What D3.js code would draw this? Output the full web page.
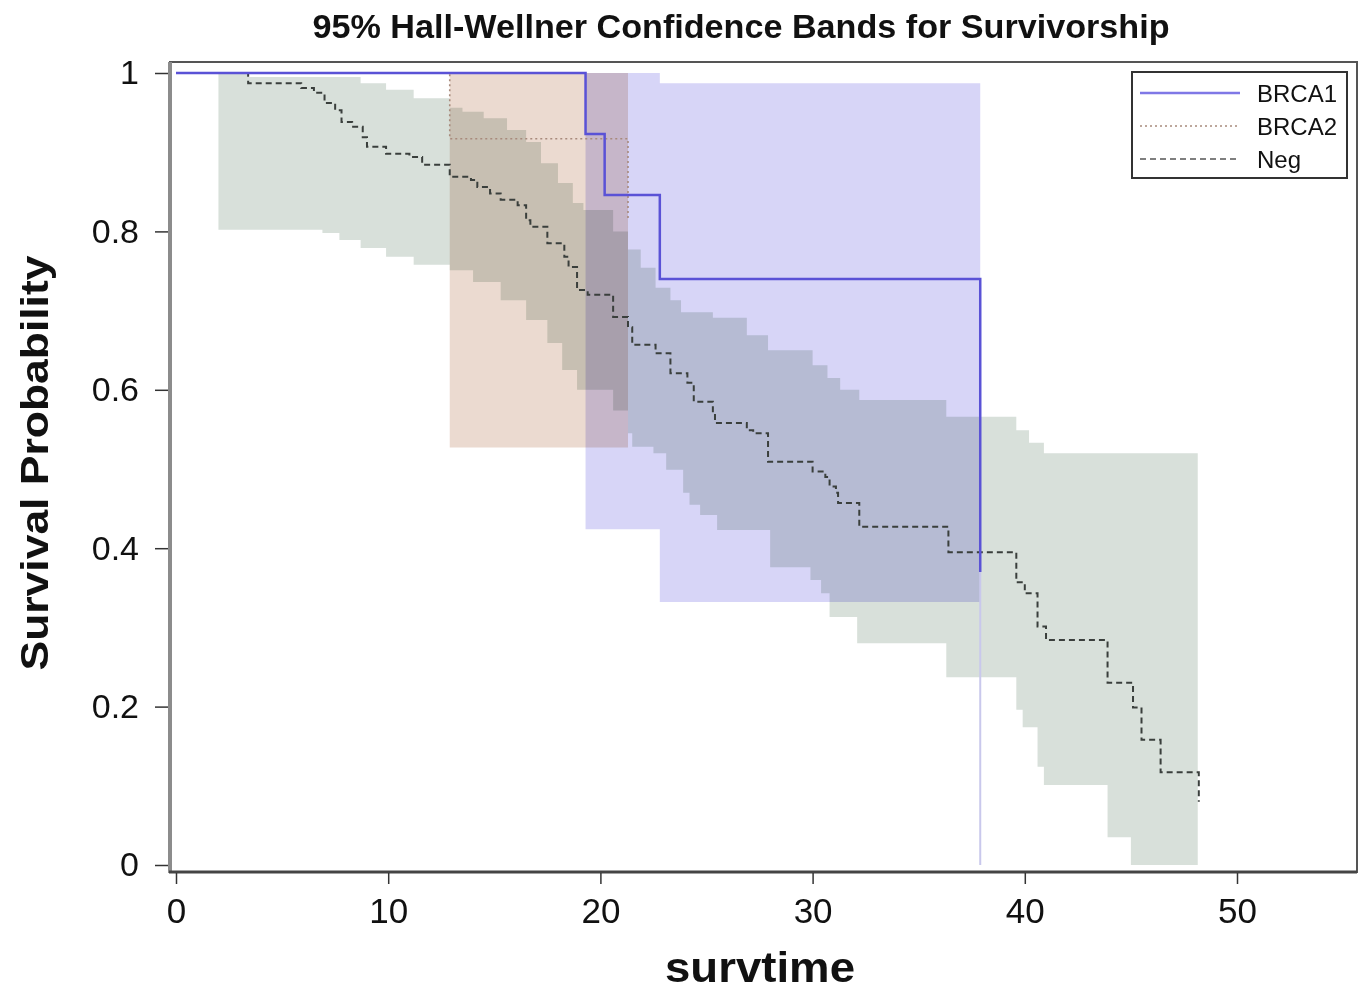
<!DOCTYPE html>
<html>
<head>
<meta charset="utf-8">
<script src="https://cdn.jsdelivr.net/npm/d3@7"></script>
<style>
  body { margin: 0; background: #fff; }
  svg { display: block; font-family: "Liberation Sans", Arial, sans-serif; }
  .band { mix-blend-mode: multiply; }
</style>
</head>
<body>
<div id="chart"></div>
<script>
// Kaplan-Meier steps: [time, survival]
var brca1Steps = [[0, 1], [19.3, 0.923], [20.2, 0.846], [22.8, 0.740], [37.9, 0.370]];
var brca2Steps = [[0, 1], [12.9, 0.917], [21.3, 0.815]];
var negSteps = [[0, 1], [3.4, 0.987], [5.9, 0.981], [6.5, 0.975], [7.0, 0.962], [7.5, 0.953],
  [7.8, 0.938], [8.3, 0.932], [8.8, 0.919], [9.0, 0.907], [9.9, 0.898], [11.0, 0.894],
  [11.6, 0.884], [12.9, 0.869], [13.9, 0.865], [14.2, 0.856], [14.8, 0.848], [15.3, 0.840],
  [16.1, 0.833], [16.5, 0.814], [16.7, 0.806], [17.5, 0.785], [18.3, 0.768], [18.5, 0.755],
  [18.9, 0.726], [19.4, 0.720], [20.6, 0.692], [21.3, 0.679], [21.5, 0.657], [22.6, 0.646],
  [23.3, 0.621], [24.1, 0.609], [24.4, 0.585], [25.3, 0.571], [25.4, 0.558], [26.9, 0.549],
  [27.2, 0.545], [27.9, 0.509], [30.0, 0.497], [30.6, 0.490], [30.8, 0.478], [31.1, 0.470],
  [31.2, 0.457], [32.2, 0.427], [36.4, 0.395], [39.6, 0.357], [40.0, 0.343], [40.6, 0.301],
  [41.0, 0.284], [43.9, 0.230], [45.1, 0.199], [45.5, 0.158], [46.4, 0.117], [48.2, 0.080]];

// Hall-Wellner band edges: [time, value], each held until the next time
var brca1Upper = [[19.3, 1.0], [22.8, 0.987]];
var brca1Lower = [[19.3, 0.424], [22.8, 0.332]];
var brca1End = 37.9;
var brca1Tail = [[37.9, 0.370], [37.9, 0]];

var brca2Upper = [[12.9, 1.0]];
var brca2Lower = [[12.9, 0.527]];
var brca2End = 21.3;

var negUpper = [[2.0, 1.0], [3.4, 0.995], [8.7, 0.987], [9.9, 0.979], [11.2, 0.968], [12.9, 0.956],
  [13.5, 0.951], [14.5, 0.943], [15.6, 0.928], [16.5, 0.913], [17.2, 0.886], [18.0, 0.861],
  [18.7, 0.836], [19.2, 0.827], [20.6, 0.800], [21.3, 0.777], [21.9, 0.754], [22.6, 0.729],
  [23.3, 0.713], [23.8, 0.698], [25.3, 0.691], [26.9, 0.669], [27.9, 0.650], [30.0, 0.631],
  [30.7, 0.615], [31.3, 0.600], [32.2, 0.587], [36.3, 0.566], [39.6, 0.549], [40.2, 0.533],
  [40.9, 0.520]];
var negLower = [[2.0, 0.802], [6.9, 0.798], [7.7, 0.789], [8.7, 0.779], [9.9, 0.768], [11.2, 0.758],
  [12.9, 0.751], [14.0, 0.736], [15.3, 0.713], [16.5, 0.688], [17.5, 0.659], [18.2, 0.625],
  [18.9, 0.600], [20.6, 0.574], [21.3, 0.545], [21.5, 0.528], [22.5, 0.520], [23.1, 0.499],
  [23.9, 0.470], [24.2, 0.455], [24.7, 0.442], [25.5, 0.423], [28.0, 0.376], [29.9, 0.360],
  [30.4, 0.343], [30.8, 0.313], [32.1, 0.280], [36.3, 0.237], [39.6, 0.196], [39.9, 0.174],
  [40.6, 0.124], [40.9, 0.101], [43.9, 0.035], [45.0, 0]];
var negEnd = 48.15;

var xTicks = [0, 10, 20, 30, 40, 50];
var yTicks = [0, 0.2, 0.4, 0.6, 0.8, 1];
var groups = ["BRCA1", "BRCA2", "Neg"];

var width = 1365, height = 994,
    frame = {left: 170, right: 1357, top: 62, bottom: 872};

var svg = d3.select("#chart")
            .append("svg")
              .attr("width", width)
              .attr("height", height);

var x = d3.scaleLinear().domain([0, 50]).range([176, 1237]),
    y = d3.scaleLinear().domain([0, 1]).range([865, 73]);

function stepAt(steps, t) {
    var v = steps[0][1];
    steps.forEach(function(d){ if (d[0] <= t) v = d[1]; });
    return v;
}

function bandRows(upper, lower, end) {
    var ts = Array.from(new Set(upper.map(function(d){return d[0]})
                .concat(lower.map(function(d){return d[0]}), [end])))
                .sort(function(a, b){return a - b});
    return ts.map(function(t){ return {t: t, lo: stepAt(lower, t), hi: stepAt(upper, t)}; });
}

var band = d3.area()
    .curve(d3.curveStepAfter)
    .x(function(d){ return x(d.t); })
    .y0(function(d){ return y(d.lo); })
    .y1(function(d){ return y(d.hi); });

var step = d3.line()
    .curve(d3.curveStepAfter)
    .x(function(d){ return x(d[0]); })
    .y(function(d){ return y(d[1]); });

var plot = svg.append("g");

plot.append("path").attr("class", "band")
    .datum(bandRows(negUpper, negLower, negEnd))
    .attr("d", band).style("fill", "#d8e0da");
plot.append("path").attr("class", "band")
    .datum(bandRows(brca2Upper, brca2Lower, brca2End))
    .attr("d", band).style("fill", "#ebdad0");
plot.append("path").attr("class", "band")
    .datum(bandRows(brca1Upper, brca1Lower, brca1End))
    .attr("d", band).style("fill", "#d7d5f7");

plot.append("path")
    .datum(brca1Tail)
    .attr("d", d3.line().x(function(d){return x(d[0])}).y(function(d){return y(d[1])}))
    .style("fill", "none").style("stroke", "#c9c8ec").style("stroke-width", 2);

plot.append("path")
    .datum(brca2Steps.concat([[brca2End, brca2Steps[brca2Steps.length-1][1]]]))
    .attr("d", step)
    .style("fill", "none").style("stroke", "#a88a7c")
    .style("stroke-width", 1.6).style("stroke-dasharray", "2 3");

plot.append("path")
    .datum(negSteps)
    .attr("d", step)
    .style("fill", "none").style("stroke", "#3a3f3c")
    .style("stroke-width", 2).style("stroke-dasharray", "6 4");

plot.append("path")
    .datum(brca1Steps)
    .attr("d", step)
    .style("fill", "none").style("stroke", "#5a52d6")
    .style("stroke-width", 2.5);

// frame
svg.append("rect")
    .attr("x", frame.left).attr("y", frame.top)
    .attr("width", frame.right - frame.left).attr("height", frame.bottom - frame.top)
    .style("fill", "none").style("stroke", "#555").style("stroke-width", 2);
svg.append("line")
    .attr("x1", frame.left).attr("x2", frame.left).attr("y1", frame.top).attr("y2", frame.bottom + 1)
    .style("stroke", "#8c8c8c").style("stroke-width", 4);
svg.append("line")
    .attr("x1", frame.left - 1).attr("x2", frame.right).attr("y1", frame.bottom).attr("y2", frame.bottom)
    .style("stroke", "#444").style("stroke-width", 3);

// axes
var xAxis = d3.axisBottom(x).tickValues(xTicks).tickSize(11).tickPadding(14).tickFormat(d3.format("d"));
svg.append("g")
    .attr("transform", "translate(0," + (frame.bottom + 1) + ")")
    .call(xAxis)
    .call(function(g){ g.select(".domain").remove(); })
    .call(function(g){
        g.selectAll("line").style("stroke", "#333").style("stroke-width", 1.5);
        g.selectAll("text").style("font-size", "35px").style("fill", "#111");
    });

var yAxis = d3.axisLeft(y).tickValues(yTicks).tickSize(13).tickPadding(16)
    .tickFormat(function(d){ return d === 0 || d === 1 ? d3.format("d")(d) : d3.format(".1f")(d); });
svg.append("g")
    .attr("transform", "translate(" + (frame.left - 2) + ",0)")
    .call(yAxis)
    .call(function(g){ g.select(".domain").remove(); })
    .call(function(g){
        g.selectAll("line").style("stroke", "#333").style("stroke-width", 1.5);
        g.selectAll("text").style("font-size", "34px").style("fill", "#111");
    });

// titles
svg.append("text")
    .attr("x", 741).attr("y", 38)
    .attr("text-anchor", "middle")
    .attr("textLength", 857).attr("lengthAdjust", "spacingAndGlyphs")
    .style("font-size", "33px").style("font-weight", "bold").style("fill", "#111")
    .text("95% Hall-Wellner Confidence Bands for Survivorship");

svg.append("text")
    .attr("x", 760).attr("y", 982)
    .attr("text-anchor", "middle")
    .attr("textLength", 190).attr("lengthAdjust", "spacingAndGlyphs")
    .style("font-size", "42px").style("font-weight", "bold").style("fill", "#111")
    .text("survtime");

svg.append("text")
    .attr("transform", "translate(48,463) rotate(-90)")
    .attr("text-anchor", "middle")
    .attr("textLength", 415).attr("lengthAdjust", "spacingAndGlyphs")
    .style("font-size", "38px").style("font-weight", "bold").style("fill", "#111")
    .text("Survival Probability");

// legend
var legend = svg.append("g").attr("transform", "translate(1132,72)");
legend.append("rect")
    .attr("width", 215).attr("height", 106)
    .style("fill", "#fff").style("stroke", "#333").style("stroke-width", 2);

var legendStyles = [
    {stroke: "#7f78e6", width: 2.5, dash: null},
    {stroke: "#a88a7c", width: 1.5, dash: "2 3"},
    {stroke: "#555", width: 1.6, dash: "6 4"}
];

var rows = legend.selectAll(".row")
    .data(groups)
    .enter().append("g")
      .attr("class", "row")
      .attr("transform", function(d, i){ return "translate(0," + (21 + i * 33) + ")"; });

rows.append("line")
    .attr("x1", 8).attr("x2", 108)
    .style("stroke", function(d, i){ return legendStyles[i].stroke; })
    .style("stroke-width", function(d, i){ return legendStyles[i].width; })
    .style("stroke-dasharray", function(d, i){ return legendStyles[i].dash; });

rows.append("text")
    .attr("x", 125).attr("y", 9)
    .style("font-size", "24px").style("fill", "#111")
    .text(function(d){ return d; });
</script>
</body>
</html>
